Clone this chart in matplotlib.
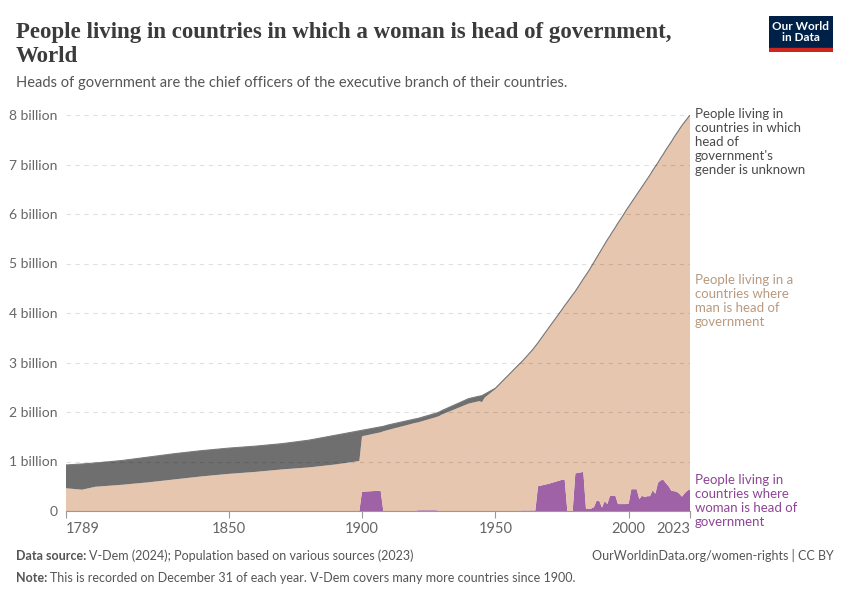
import numpy as np
import matplotlib.pyplot as plt

# years on one shared grid (annual where the woman series moves a lot)
years = [1789, 1795, 1800, 1810, 1820, 1830, 1840, 1850, 1860, 1870, 1880, 1890,
         1899, 1900, 1907, 1908, 1910, 1920, 1921, 1928, 1929, 1930, 1940, 1944,
         1945, 1946, 1949, 1950, 1955, 1959, 1960, 1964, 1965, 1966, 1970, 1975,
         1976, 1977, 1979, 1980, 1983,
         1984, 1985, 1986, 1987, 1988, 1989, 1990, 1991, 1992, 1993, 1994, 1995,
         1996, 1997, 1998, 1999, 2000, 2001, 2002, 2003, 2004, 2005, 2006, 2007,
         2008, 2009, 2010, 2011, 2012, 2013, 2014, 2015, 2016, 2017, 2018, 2019,
         2020, 2021, 2022, 2023]

# world population, billions
world = [0.93, 0.95, 0.97, 1.02, 1.09, 1.16, 1.22, 1.27, 1.31, 1.36, 1.43, 1.53,
         1.62, 1.63, 1.70, 1.71, 1.74, 1.86, 1.87, 1.98, 2.00, 2.03, 2.27, 2.32,
         2.33, 2.36, 2.45, 2.48, 2.75, 2.97, 3.02, 3.26, 3.33, 3.40, 3.70, 4.07,
         4.15, 4.22, 4.37, 4.44, 4.69,
         4.77, 4.85, 4.94, 5.03, 5.12, 5.21, 5.30, 5.39, 5.48, 5.56, 5.65, 5.73,
         5.82, 5.90, 5.98, 6.07, 6.15, 6.23, 6.31, 6.39, 6.47, 6.55, 6.63, 6.71,
         6.79, 6.88, 6.96, 7.04, 7.13, 7.21, 7.30, 7.38, 7.46, 7.55, 7.63, 7.71,
         7.79, 7.86, 7.93, 8.00]

# people living where a woman is head of government, billions
woman = [0, 0, 0, 0, 0, 0, 0, 0, 0, 0, 0, 0,
         0, 0.39, 0.41, 0, 0, 0, 0.015, 0.015, 0, 0, 0, 0,
         0, 0, 0, 0, 0, 0, 0.01, 0.01, 0.01, 0.50, 0.55, 0.63,
         0.64, 0, 0, 0.76, 0.79,
         0.04, 0.04, 0.05, 0.08, 0.21, 0.20, 0.07, 0.20, 0.14, 0.31, 0.31, 0.31,
         0.14, 0.14, 0.14, 0.14, 0.15, 0.44, 0.44, 0.44, 0.24, 0.31, 0.28, 0.30,
         0.30, 0.42, 0.35, 0.57, 0.62, 0.63, 0.56, 0.50, 0.41, 0.40, 0.39, 0.35,
         0.29, 0.36, 0.41, 0.44]

# people living where head of government's gender is unknown, billions
unknown = [0.47, 0.52, 0.48, 0.49, 0.51, 0.52, 0.52, 0.52, 0.52, 0.52, 0.55, 0.59,
           0.61, 0.12, 0.11, 0.10, 0.10, 0.08, 0.08, 0.08, 0.08, 0.08, 0.10, 0.10,
           0.13, 0.07, 0.03, 0.02, 0.01, 0.01, 0.01, 0.01, 0.01, 0.01, 0.01, 0.01,
           0.01, 0.01, 0.01, 0.01, 0.01,
           0.01, 0.01, 0.01, 0.01, 0.01, 0.01, 0.01, 0.01, 0.01, 0.01, 0.01, 0.01,
           0.01, 0.01, 0.01, 0.01, 0.01, 0.01, 0.01, 0.01, 0.01, 0.01, 0.01, 0.01,
           0.01, 0.01, 0.01, 0.01, 0.01, 0.01, 0.01, 0.01, 0.01, 0.01, 0.01, 0.01,
           0.01, 0.01, 0.01, 0.01]

man = np.array(world) - np.array(woman) - np.array(unknown)

xticks = [1789, 1850, 1900, 1950, 2000, 2023]
yticks = [0, 1, 2, 3, 4, 5, 6, 7, 8]
ylabels = ["0"] + ["%d billion" % v for v in yticks[1:]]

purple = "#a062a6"
tan = "#e6c6ae"
grey = "#6f6f6f"

W, H = 850, 600
fig = plt.figure(figsize=(8.5, 6), dpi=100)
ax = fig.add_axes([66 / W, 1 - 511 / H, 624 / W, 396 / H])

ax.stackplot(years, woman, man, unknown, colors=[purple, tan, grey], linewidth=0)
ax.plot(years, world, color="#7a7a7a", lw=0.8)

ax.set_xlim(1789, 2023)
ax.set_ylim(0, 8)
ax.set_yticks(yticks)
ax.set_yticklabels(ylabels, fontsize=10, color="#666666", family="Lato")
ax.set_xticks(xticks)
ax.set_xticklabels([str(t) for t in xticks], fontsize=10.5, color="#666666", family="Lato")
xl = ax.get_xticklabels()
xl[0].set_ha("left")
xl[-1].set_ha("right")
ax.tick_params(axis="y", length=0, pad=6)
ax.tick_params(axis="x", length=5, color="#999999", pad=3)
for s in ["top", "right", "left"]:
    ax.spines[s].set_visible(False)
ax.spines["bottom"].set_color("#999999")
ax.yaxis.grid(True, linestyle=(0, (4, 4)), color="black", alpha=0.12, lw=0.8)
ax.set_axisbelow(False)

# right-hand labels
def px(x, y):
    return x / W, 1 - y / H

fig.text(*px(695, 108), "People living in\ncountries in which\nhead of\ngovernment's\ngender is unknown",
         fontsize=9.5, family="Lato", color="#4a4a4a", va="top", linespacing=1.2)
fig.text(*px(695, 274), "People living in a\ncountries where\nman is head of\ngovernment",
         fontsize=9.5, family="Lato", color="#b99a80", va="top", linespacing=1.2)
fig.text(*px(695, 474), "People living in\ncountries where\nwoman is head of\ngovernment",
         fontsize=9.5, family="Lato", color="#8e4596", va="top", linespacing=1.2)

# title and subtitle
fig.text(*px(16, 62), "People living in countries in which a woman is head of government,\nWorld",
         fontsize=16.5, family="Liberation Serif", weight="bold", color="#3b3b3b",
         va="baseline", linespacing=1.2)
fig.text(*px(16, 87), "Heads of government are the chief officers of the executive branch of their countries.",
         fontsize=10.5, family="Lato", color="#555555", va="baseline")

# logo
logo = fig.add_axes([769 / W, 1 - 52 / H, 64 / W, 36 / H])
logo.set_xlim(0, 1)
logo.set_ylim(0, 1)
logo.axis("off")
logo.add_patch(plt.Rectangle((0, 0.1), 1, 0.9, color="#002147"))
logo.add_patch(plt.Rectangle((0, 0), 1, 0.1, color="#ce261e"))
logo.text(0.5, 0.56, "Our World\nin Data", ha="center", va="center", color="white",
          fontsize=8.5, family="Lato", weight="bold", linespacing=1.0)

# footer
renderer = fig.canvas.get_renderer()

def two_part(x, y, bold, rest):
    t = fig.text(*px(x, y), bold, fontsize=9, family="Lato", weight="bold",
                 color="#555555", va="baseline")
    bb = t.get_window_extent(renderer)
    fig.text(bb.x1 / W + 3 / W, 1 - y / H, rest, fontsize=9, family="Lato",
             color="#555555", va="baseline")

two_part(16, 560, "Data source:", "V-Dem (2024); Population based on various sources (2023)")
two_part(16, 582, "Note:", "This is recorded on December 31 of each year. V-Dem covers many more countries since 1900.")
fig.text(*px(834, 560), "OurWorldinData.org/women-rights | CC BY", fontsize=9, family="Lato",
         color="#555555", ha="right", va="baseline")

fig.savefig("out.png", dpi=100)
